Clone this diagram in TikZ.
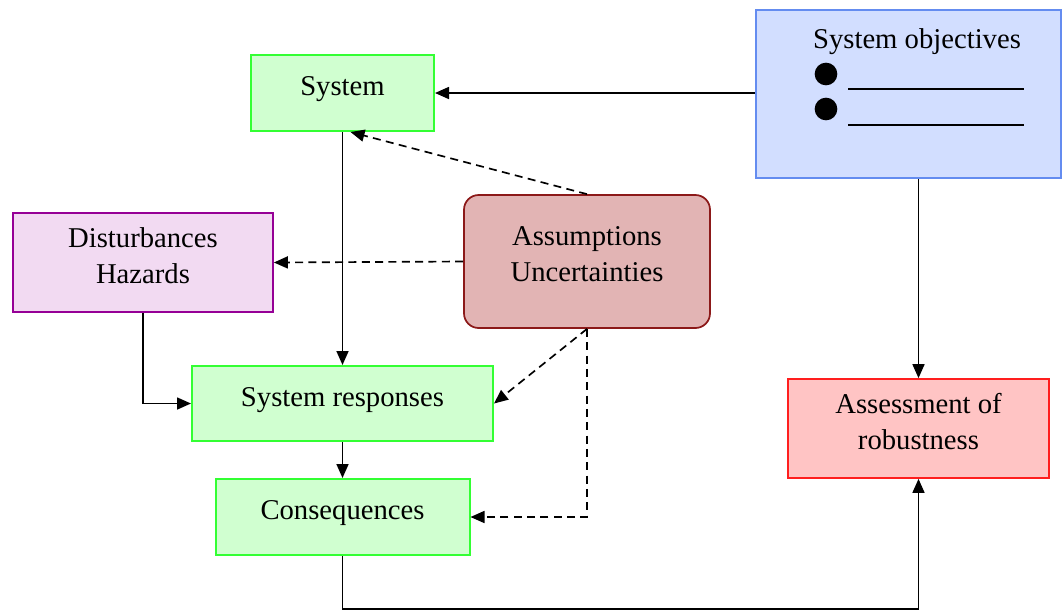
\documentclass[tikz,border=0pt]{standalone}
\usepackage{fontspec}
\setmainfont{Liberation Serif}
\usetikzlibrary{arrows.meta}

\begin{document}
\begin{tikzpicture}[x=0.75pt,y=-0.75pt,font=\fontsize{21.5}{27}\selectfont]
  \definecolor{boxgreen}{RGB}{51,255,51}
  \definecolor{fillgreen}{RGB}{208,255,208}
  \definecolor{boxblue}{RGB}{100,140,240}
  \definecolor{fillblue}{RGB}{210,222,255}
  \definecolor{boxpurple}{RGB}{150,0,150}
  \definecolor{fillpurple}{RGB}{242,218,242}
  \definecolor{boxbrown}{RGB}{140,25,25}
  \definecolor{fillbrown}{RGB}{226,180,180}
  \definecolor{boxred}{RGB}{255,30,30}
  \definecolor{fillred}{RGB}{255,196,196}

  \tikzset{
    diagbox/.style={line width=1.3pt,align=center,inner sep=0pt,text depth=10.5pt},
    greenbox/.style={diagbox,draw=boxgreen,fill=fillgreen,line width=1.5pt},
    arr/.style={-{Triangle[length=10.5pt,width=9pt]},line width=1.25pt},
    darr/.style={arr,dash pattern=on 6pt off 4pt},
    bulletpt/.style={circle,fill=black,minimum size=17pt,inner sep=0pt}
  }

  \useasboundingbox (0,0) rectangle (1062,611);

  % ---------------- boxes ----------------
  \node[greenbox,minimum width=137.25pt,minimum height=57pt] (sys) at (342.5,93) {System};
  \node[greenbox,minimum width=225.75pt,minimum height=56.25pt] (resp) at (342.5,403.5) {System responses};
  \node[greenbox,minimum width=190.5pt,minimum height=57pt] (cons) at (342.5,517) {Consequences};

  \node[diagbox,draw=boxpurple,fill=fillpurple,
        minimum width=195pt,minimum height=74.25pt] (dist) at (143,262.5) {Disturbances\\Hazards};

  \node[diagbox,draw=boxbrown,fill=fillbrown,rounded corners=11pt,
        minimum width=184.5pt,minimum height=99.75pt] (assum) at (587,261.5) {Assumptions\\Uncertainties};

  \node[diagbox,draw=boxred,fill=fillred,
        minimum width=195.75pt,minimum height=74.25pt] (assess) at (918.5,428.5) {Assessment of\\robustness};

  % System objectives with bullet list
  \node[draw=boxblue,fill=fillblue,line width=1.3pt,
        minimum width=228.75pt,minimum height=126pt] (obj) at (908.5,94) {};
  \node (objtitle) at (917,42) {System objectives};
  \node[bulletpt] (b1) at (826,74) {};
  \node[bulletpt] (b2) at (826,109) {};
  \coordinate (l1a) at (848,89);
  \coordinate (l1b) at (1024,89);
  \coordinate (l2a) at (848,125);
  \coordinate (l2b) at (1024,125);
  \draw[line width=1pt] (l1a) -- (l1b);
  \draw[line width=1pt] (l2a) -- (l2b);

  % ---------------- connectors ----------------
  \draw[arr] (obj.west |- sys.east) -- (sys.east);
  \draw[arr] (assess.north |- obj.south) -- (assess.north);
  \draw[arr] (sys.south) -- (resp.north);
  \draw[arr] (resp.south) -- (cons.north);
  \draw[arr] (dist.south) |- (resp.west);

  \coordinate (low) at (342.5,609);
  \draw[arr] (cons.south) -- (cons.south |- low) -| (assess.south);

  % dashed influences of assumptions
  \draw[darr] (assum.north) -- ([xshift=6pt]sys.south);
  \draw[darr] (assum.west) -- (dist.east);
  \draw[darr] (assum.south) -- (resp.east);
  \draw[darr] (assum.south) |- (cons.east);
\end{tikzpicture}
\end{document}
